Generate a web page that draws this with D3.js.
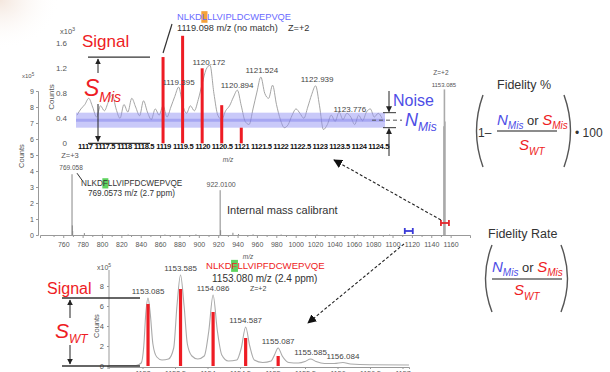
<!DOCTYPE html>
<html>
<head>
<meta charset="utf-8">
<title>Fidelity</title>
<script src="https://d3js.org/d3.v7.min.js"></script>
<style>
  body { margin: 0; background: #fff; }
  text { font-family: "Liberation Sans", Arial, sans-serif; }
</style>
</head>
<body>
<div id="chart"></div>
<script type="text/javascript">

// full range spectrum, counts x10^5
let fullMz     = [769.058, 769.392, 769.726, 781.8, 800.4, 827, 865, 897, 922.010, 922.5, 935.2, 941.0, 956, 985, 1022, 1064, 1097, 1153.085, 1153.585, 1154.086];
let fullCounts = [3.8, 0.6, 0.25, 0.12, 0.03, 0.03, 0.03, 0.04, 2.8, 0.3, 0.14, 0.06, 0.04, 0.03, 0.03, 0.03, 0.03, 6.8, 9.1, 7.1];
let fullTicks  = [760, 780, 800, 820, 840, 860, 880, 900, 920, 940, 960, 980, 1000, 1020, 1040, 1060, 1080, 1100, 1120, 1140, 1160];
let fullYTicks = [0, 1, 2, 3, 4, 5, 6, 7, 8, 9];

// zoom on the mismatch region, counts x10^3
let zoomTicks  = [1117, 1117.5, 1118, 1118.5, 1119, 1119.5, 1120, 1120.5, 1121, 1121.5, 1122, 1122.5, 1123, 1123.5, 1124, 1124.5];
let zoomYTicks = [0, 0.4, 0.8, 1.2, 1.6];
let noiseStart = 1116.8, noiseStep = 0.1;
let noiseTrace = [0.45, 0.55, 0.62, 0.72, 0.58, 0.42, 0.6, 0.52, 0.66, 0.78,
                  0.55, 0.4, 0.62, 0.5, 0.72, 0.58, 0.44, 0.68, 0.5, 0.38,
                  0.55, 0.45, 0.6, 0.42, 0.58, 0.75, 0.9, 0.62, 0.48, 0.6,
                  0.52, 0.7, 0.95, 1.18, 1.25, 0.8, 0.45, 0.38, 0.52, 0.6,
                  0.74, 0.85, 0.6, 0.35, 0.3, 0.55, 0.82, 1.06, 0.8, 0.72,
                  0.93, 0.62, 0.38, 0.25, 0.3, 0.45, 0.55, 0.48, 0.4, 0.58,
                  0.78, 0.92, 0.6, 0.22, 0.3, 0.45, 0.35, 0.5, 0.38, 0.48,
                  0.42, 0.3, 0.45, 0.36, 0.5, 0.55, 0.42, 0.48, 0.4];
let misMz      = [1119.0, 1119.5, 1120.0, 1120.5, 1121.0];
let misCounts  = [1.38, 1.72, 1.2, 0.61, 0.25];
let zoomLabMz  = [1119.395, 1120.172, 1120.894, 1121.524, 1122.939, 1123.776];
let zoomLabAt  = [0.93, 1.25, 0.88, 1.12, 0.98, 0.5];
let noiseBand  = [0.25, 0.37, 0.49];

// zoom on the wild type peak, counts x10^5
let wtTicks    = [1153, 1153.5, 1154, 1154.5, 1155, 1155.5, 1156, 1156.5, 1157];
let wtYTicks   = [0, 2, 4, 6, 8];
let wtTraceMz  = [1152.48, 1152.9, 1152.98, 1153.02, 1153.05, 1153.085, 1153.12, 1153.16, 1153.22, 1153.3,
                  1153.4, 1153.48, 1153.53, 1153.585, 1153.64, 1153.69, 1153.76, 1153.85, 1153.95, 1154.02,
                  1154.086, 1154.15, 1154.22, 1154.32, 1154.45, 1154.52, 1154.587, 1154.65, 1154.72, 1154.85,
                  1154.98, 1155.03, 1155.087, 1155.15, 1155.25, 1155.4, 1155.5, 1155.585, 1155.67, 1155.8,
                  1155.95, 1156.084, 1156.2, 1156.5, 1157.1];
let wtTrace    = [0.05, 0.05, 0.3, 2.0, 5.2, 6.8, 5.2, 2.2, 0.9, 0.6,
                  0.7, 1.8, 6.0, 9.1, 6.0, 2.2, 1.0, 0.7, 1.0, 3.5,
                  7.1, 3.6, 1.1, 0.5, 0.6, 1.8, 3.9, 2.0, 0.6, 0.35,
                  0.5, 1.1, 1.8, 1.0, 0.35, 0.3, 0.45, 0.7, 0.45, 0.25,
                  0.25, 0.35, 0.2, 0.12, 0.1];
let wtMz       = [1153.085, 1153.585, 1154.086, 1154.587, 1155.087];
let wtCounts   = [6.2, 7.7, 5.4, 2.8, 1.0];
let wtLabMz    = [1153.085, 1153.585, 1154.086, 1154.587, 1155.087, 1155.585, 1156.084];
let wtLabAt    = [6.8, 9.1, 7.1, 3.9, 1.8, 0.7, 0.3];

let red = "#ee1c24", blue = "#4d4de6", grey = "#444";

let svg = d3.select("#chart").append("svg")
    .attr("width", 610)
    .attr("height", 372);

let defs = svg.append("defs");
let rg = defs.append("radialGradient").attr("id", "corner").attr("cx", 0).attr("cy", 0).attr("r", 1);
rg.append("stop").attr("offset", "0%").attr("stop-color", "#efdccf").attr("stop-opacity", 0.7);
rg.append("stop").attr("offset", "100%").attr("stop-color", "#fff").attr("stop-opacity", 0);
svg.append("rect").attr("width", 60).attr("height", 50).attr("fill", "url(#corner)");

function marker(id, size, color) {
    defs.append("marker").attr("id", id)
        .attr("viewBox", "0 0 10 10").attr("refX", 9).attr("refY", 5)
        .attr("markerWidth", size).attr("markerHeight", size)
        .attr("markerUnits", "userSpaceOnUse")
        .attr("orient", "auto-start-reverse")
      .append("path").attr("d", "M0,0L10,5L0,10z").attr("fill", color);
}
marker("arr", 6, "#222");
marker("arrBig", 9, "#111");

function styleAxis(g, size, color, weight) {
    g.selectAll("text").attr("font-size", size).attr("fill", color)
        .attr("font-weight", weight || "normal")
        .style("font-family", "'Liberation Sans', Arial, sans-serif");
    g.selectAll("line").attr("stroke", "#999");
    g.select(".domain").attr("stroke", "#999");
}

function label(x, y, txt, size, color, anchor) {
    return svg.append("text").attr("x", x).attr("y", y)
        .attr("font-size", size).attr("fill", color)
        .attr("text-anchor", anchor || "start").text(txt);
}

// big italic symbol with subscript, e.g. S_Mis
function sym(x, y, main, sub, color, size, subSize, anchor) {
    let t = svg.append("text").attr("x", x).attr("y", y)
        .attr("fill", color).attr("font-style", "italic")
        .attr("text-anchor", anchor || "start");
    t.append("tspan").attr("font-size", size).text(main);
    t.append("tspan").attr("font-size", subSize).attr("dy", subSize * 0.45).text(sub);
    return t;
}

// peptide sequence with one highlighted residue
function peptide(x, y, seq, size, color, hl, hlColor) {
    let g = svg.append("g");
    let r = g.append("rect").attr("fill", hlColor);
    let t = g.append("text").attr("x", x).attr("y", y).attr("font-size", size)
        .attr("fill", color).text(seq);
    let n = t.node();
    let x0 = x + n.getSubStringLength(0, hl);
    let w = n.getSubStringLength(hl, 1);
    r.attr("x", x0 - 0.5).attr("y", y - size * 0.95).attr("width", w + 1).attr("height", size * 1.25);
}

// ---------------- full range spectrum ----------------
let xFull = d3.scaleLinear().domain([736, 1180]).range([40, 470]);
let yFull = d3.scaleLinear().domain([0, 9]).range([235, 91]);

let gx = svg.append("g").attr("transform", "translate(0," + yFull(0) + ")")
    .call(d3.axisBottom(xFull).tickValues(fullTicks).tickSize(3).tickPadding(4).tickFormat(d3.format("d")));
styleAxis(gx, 7, "#555");
let gxm = svg.append("g").attr("transform", "translate(0," + yFull(0) + ")")
    .call(d3.axisBottom(xFull).tickValues(fullTicks.map(function(t){ return t - 10; })).tickSize(2).tickFormat(""));
styleAxis(gxm, 7, "#555");
gxm.select(".domain").remove();

let gy = svg.append("g").attr("transform", "translate(38,0)")
    .call(d3.axisLeft(yFull).tickValues(fullYTicks).tickSize(2).tickPadding(2));
styleAxis(gy, 7, "#555");

label(248, 259, "m/z", 6.5, "#555", "middle").attr("font-style", "italic");
label(22, 78, "x10", 6, "#555").append("tspan").attr("dy", -2).attr("font-size", 4.5).text("5");
label(24, 156, "Counts", 7.5, "#555", "middle").attr("transform", "rotate(-90,24,156)");

svg.selectAll("line.stick").data(fullMz).enter().append("line")
    .attr("class", "stick")
    .attr("x1", function(d){ return xFull(d); })
    .attr("x2", function(d){ return xFull(d); })
    .attr("y1", yFull(0))
    .attr("y2", function(d, i){ return yFull(fullCounts[i]); })
    .attr("stroke", function(d, i){ return fullCounts[i] > 5 ? "#aaa" : "#888"; })
    .attr("stroke-width", function(d, i){ return fullCounts[i] > 5 ? 1.6 : 1; });

label(xFull(769.058) - 2, yFull(3.8) - 16, "Z=+3", 7.5, "#555", "middle");
label(xFull(769.058) - 1, yFull(3.8) - 4, "769.058", 6.5, "#555", "middle");
svg.append("line").attr("x1", xFull(769.058) + 5).attr("y1", yFull(3.8) - 1)
    .attr("x2", xFull(769.058) + 10).attr("y2", yFull(3.8) + 6).attr("stroke", "#333").attr("stroke-width", 1);
peptide(81, 186, "NLKDFLLVIPFDCWEPVQE", 8.2, "#333", 4, "#5fd35f");
label(88, 196, "769.0573 m/z (2.7 ppm)", 8.2, "#333");

label(xFull(922.01) + 1, yFull(2.8) - 3, "922.0100", 7, "#555", "middle");
label(227, 214, "Internal mass calibrant", 11, "#333");

label(xFull(1153.085) - 3, yFull(9.1) - 14, "Z=+2", 6.5, "#555", "middle");
label(xFull(1153.085), yFull(9.1) - 2, "1153.085", 6, "#555", "middle");

// range markers (I-beams)
function ibeam(x0, x1, y, color) {
    let g = svg.append("g").attr("stroke", color).attr("stroke-width", 1.8);
    g.append("line").attr("x1", x0).attr("x2", x1).attr("y1", y).attr("y2", y);
    g.append("line").attr("x1", x0).attr("x2", x0).attr("y1", y - 3).attr("y2", y + 3);
    g.append("line").attr("x1", x1).attr("x2", x1).attr("y1", y - 3).attr("y2", y + 3);
}
ibeam(xFull(1116.8) - 4, xFull(1116.8) + 4, 231, "#3b3bd8");
ibeam(xFull(1153.085) - 3, xFull(1153.085) + 5, 223, "#e3262c");

// dashed connectors
svg.append("line").attr("x1", xFull(1153.085) - 3).attr("y1", 220).attr("x2", 334).attr("y2", 160)
    .attr("stroke", "#222").attr("stroke-width", 1.1).attr("stroke-dasharray", "3,2")
    .attr("marker-end", "url(#arrBig)");
svg.append("line").attr("x1", 404).attr("y1", 244).attr("x2", 308).attr("y2", 323)
    .attr("stroke", "#222").attr("stroke-width", 1.1).attr("stroke-dasharray", "3,2")
    .attr("marker-end", "url(#arrBig)");

// ---------------- zoom: mismatch region ----------------
let xZoom = d3.scaleLinear().domain([1116.8, 1124.7]).range([77, 386]);
let yZoom = d3.scaleLinear().domain([0, 1.6]).range([143.3, 43.3]);

let zx = svg.append("g").attr("transform", "translate(0,143)")
    .call(d3.axisBottom(xZoom).tickValues(zoomTicks).tickSize(0).tickPadding(1).tickFormat(d3.format("")));
styleAxis(zx, 7.6, "#111", "bold");
zx.selectAll("text").attr("letter-spacing", -0.35);
zx.select(".domain").remove();

let zy = svg.append("g").attr("transform", "translate(70,0)")
    .call(d3.axisLeft(yZoom).tickValues(zoomYTicks).tickSize(0).tickPadding(3).tickFormat(function(d){ return d === 0 ? "0" : d3.format(".1f")(d); }));
styleAxis(zy, 8, "#555");
zy.select(".domain").remove();

label(60, 34, "x10", 7.5, "#555").append("tspan").attr("dy", -3).attr("font-size", 5.5).text("3");
label(54, 97, "Counts", 8, "#555", "middle").attr("transform", "rotate(-90,54,97)");
label(228, 162, "m/z", 6.5, "#555", "middle").attr("font-style", "italic");

let traceLine = d3.line()
    .x(function(d, i){ return xZoom(noiseStart + i * noiseStep); })
    .y(function(d){ return yZoom(d); })
    .curve(d3.curveMonotoneX);
svg.append("path").datum(noiseTrace).attr("d", traceLine)
    .attr("fill", "none").attr("stroke", "#9a9a9a").attr("stroke-width", 0.9);

// noise band
svg.append("rect").attr("x", xZoom(1116.8) - 1).attr("width", xZoom(1124.7) - xZoom(1116.8))
    .attr("y", yZoom(noiseBand[2])).attr("height", yZoom(noiseBand[0]) - yZoom(noiseBand[2]))
    .attr("fill", "#9393f4").attr("opacity", 0.5);
svg.append("line").attr("x1", xZoom(1116.8) - 1).attr("x2", xZoom(1124.7) - 1)
    .attr("y1", yZoom(noiseBand[1])).attr("y2", yZoom(noiseBand[1]))
    .attr("stroke", "#7373ea").attr("stroke-width", 3).attr("opacity", 0.4);

svg.selectAll("rect.mis").data(misMz).enter().append("rect")
    .attr("class", "mis")
    .attr("x", function(d){ return xZoom(d) - 1.5; })
    .attr("width", 3)
    .attr("y", function(d, i){ return yZoom(misCounts[i]); })
    .attr("height", function(d, i){ return yZoom(0) - yZoom(misCounts[i]); })
    .attr("fill", red);

zoomLabMz.forEach(function(m, i){
    label(xZoom(m), yZoom(zoomLabAt[i]), d3.format(".3f")(m), 8, "#444", "middle");
});

peptide(177, 20, "NLKDLLLVIPLDCWEPVQE", 9.3, "#6a6aff", 4, "#f5a23c");
label(177, 31, "1119.098 m/z (no match)", 9.2, "#333");
label(288, 31, "Z=+2", 9.2, "#333");
svg.append("line").attr("x1", xZoom(misMz[0])).attr("y1", yZoom(misCounts[0]) - 4)
    .attr("x2", 172).attr("y2", 24).attr("stroke", "#333").attr("stroke-width", 1.2);

// signal bracket (mismatch)
svg.append("line").attr("x1", 88).attr("x2", 150).attr("y1", yZoom(misCounts[0])).attr("y2", yZoom(misCounts[0]))
    .attr("stroke", "#333").attr("stroke-width", 1.3);
svg.append("line").attr("x1", 88).attr("x2", 150).attr("y1", yZoom(0)).attr("y2", yZoom(0))
    .attr("stroke", "#333").attr("stroke-width", 1.3);
svg.append("line").attr("x1", 98).attr("x2", 98).attr("y1", 73).attr("y2", yZoom(misCounts[0]) + 2)
    .attr("stroke", "#222").attr("stroke-width", 1).attr("marker-end", "url(#arr)");
svg.append("line").attr("x1", 98).attr("x2", 98).attr("y1", 104).attr("y2", yZoom(0) - 2)
    .attr("stroke", "#222").attr("stroke-width", 1).attr("marker-end", "url(#arr)");
label(82, 47, "Signal", 17, red);
sym(84, 96, "S", "Mis", red, 23, 14);

// noise bracket
let nx = 389;
svg.append("line").attr("x1", nx).attr("x2", nx).attr("y1", 91).attr("y2", yZoom(noiseBand[2]) - 1)
    .attr("stroke", "#222").attr("stroke-width", 1).attr("marker-end", "url(#arr)");
svg.append("line").attr("x1", nx).attr("x2", nx).attr("y1", 156).attr("y2", yZoom(noiseBand[0]) + 1)
    .attr("stroke", "#222").attr("stroke-width", 1).attr("marker-end", "url(#arr)");
svg.append("line").attr("x1", 383).attr("x2", 396).attr("y1", yZoom(noiseBand[2])).attr("y2", yZoom(noiseBand[2]))
    .attr("stroke", "#333").attr("stroke-width", 1);
svg.append("line").attr("x1", 383).attr("x2", 396).attr("y1", yZoom(noiseBand[0])).attr("y2", yZoom(noiseBand[0]))
    .attr("stroke", "#333").attr("stroke-width", 1);
svg.append("line").attr("x1", 372).attr("x2", 402).attr("y1", yZoom(noiseBand[1])).attr("y2", yZoom(noiseBand[1]))
    .attr("stroke", "#555").attr("stroke-width", 1).attr("stroke-dasharray", "4,3");
label(393, 106, "Noise", 16, blue);
sym(405, 126, "N", "Mis", blue, 18, 12);

// ---------------- zoom: wild type peak ----------------
let xWt = d3.scaleLinear().domain([1152.48, 1157.1]).range([108.7, 409]);
let yWt = d3.scaleLinear().domain([0, 10]).range([366, 266]);

let wx = svg.append("g").attr("transform", "translate(0,367)")
    .call(d3.axisBottom(xWt).tickValues(wtTicks).tickSize(2).tickPadding(2).tickFormat(d3.format("")));
styleAxis(wx, 7, "#555");
let wy = svg.append("g").attr("transform", "translate(109,0)")
    .call(d3.axisLeft(yWt).tickValues(wtYTicks).tickSize(2).tickPadding(3));
styleAxis(wy, 7.5, "#555");
wy.select(".domain").attr("d", "M-2,368H0V270");

label(97, 270, "x10", 7, "#555").append("tspan").attr("dy", -3).attr("font-size", 5).text("5");
label(99, 326, "Counts", 7.5, "#555", "middle").attr("transform", "rotate(-90,99,326)");

let wtLine = d3.line()
    .x(function(d, i){ return xWt(wtTraceMz[i]); })
    .y(function(d){ return yWt(d); })
    .curve(d3.curveMonotoneX);
svg.append("path").datum(wtTrace).attr("d", wtLine)
    .attr("fill", "none").attr("stroke", "#aaa").attr("stroke-width", 1.1);

svg.selectAll("rect.wt").data(wtMz).enter().append("rect")
    .attr("class", "wt")
    .attr("x", function(d){ return xWt(d) - 1.6; })
    .attr("width", 3.2)
    .attr("y", function(d, i){ return yWt(wtCounts[i]); })
    .attr("height", function(d, i){ return yWt(0) - yWt(wtCounts[i]); })
    .attr("fill", red);

wtLabMz.forEach(function(m, i){
    label(xWt(m), yWt(wtLabAt[i]) - 4, d3.format(".3f")(m), 8, "#444", "middle");
});

peptide(206, 269, "NLKDFLLVIPFDCWEPVQE", 9.6, red, 4, "#5fd35f");
label(212, 282, "1153.080 m/z (2.4 ppm)", 10, "#333");
label(250, 291, "Z=+2", 7, "#444");

// signal bracket (wild type)
svg.append("line").attr("x1", 62).attr("x2", 140).attr("y1", yWt(wtLabAt[0])).attr("y2", yWt(wtLabAt[0]))
    .attr("stroke", "#333").attr("stroke-width", 1.3);
svg.append("line").attr("x1", 62).attr("x2", 140).attr("y1", yWt(0)).attr("y2", yWt(0))
    .attr("stroke", "#333").attr("stroke-width", 1.3);
svg.append("line").attr("x1", 70).attr("x2", 70).attr("y1", 318).attr("y2", yWt(wtLabAt[0]) + 2)
    .attr("stroke", "#222").attr("stroke-width", 1).attr("marker-end", "url(#arr)");
svg.append("line").attr("x1", 70).attr("x2", 70).attr("y1", 345).attr("y2", yWt(0) - 2)
    .attr("stroke", "#222").attr("stroke-width", 1).attr("marker-end", "url(#arr)");
label(47, 294, "Signal", 16, red);
sym(55, 338, "S", "WT", red, 21, 12);

// ---------------- formulas ----------------
function paren(x, y0, y1, bulge) {
    svg.append("path")
        .attr("d", "M" + x + "," + y0 + "Q" + (x + bulge) + "," + ((y0 + y1) / 2) + " " + x + "," + y1)
        .attr("fill", "none").attr("stroke", "#555").attr("stroke-width", 1.4);
}
function fraction(x, yNum, yBar, x1, yDen, xDen) {
    let t = svg.append("text").attr("x", x).attr("y", yNum);
    t.append("tspan").attr("fill", blue).attr("font-style", "italic").attr("font-size", 15).text("N");
    t.append("tspan").attr("fill", blue).attr("font-style", "italic").attr("font-size", 10).attr("dy", 4).text("Mis");
    t.append("tspan").attr("fill", "#333").attr("font-size", 13).attr("dy", -4).text(" or ");
    t.append("tspan").attr("fill", red).attr("font-style", "italic").attr("font-size", 15).text("S");
    t.append("tspan").attr("fill", red).attr("font-style", "italic").attr("font-size", 10).attr("dy", 4).text("Mis");
    svg.append("line").attr("x1", x).attr("x2", x1).attr("y1", yBar).attr("y2", yBar)
        .attr("stroke", "#666").attr("stroke-width", 1.3);
    sym(xDen, yDen, "S", "WT", red, 15, 10);
}

label(497, 89, "Fidelity %", 12.5, "#333");
paren(483, 95, 167, -13);
paren(564, 95, 167, 13);
label(478, 137, "1\u2013", 12, "#333");
fraction(497, 125, 131, 557, 150, 519);
label(575, 137, "\u2022 100", 12, "#333");

label(488, 238, "Fidelity Rate", 12.5, "#333");
paren(492, 245, 312, -13);
paren(561, 245, 312, 13);
fraction(492, 272, 279, 562, 295, 514);

</script>
</body>
</html>
